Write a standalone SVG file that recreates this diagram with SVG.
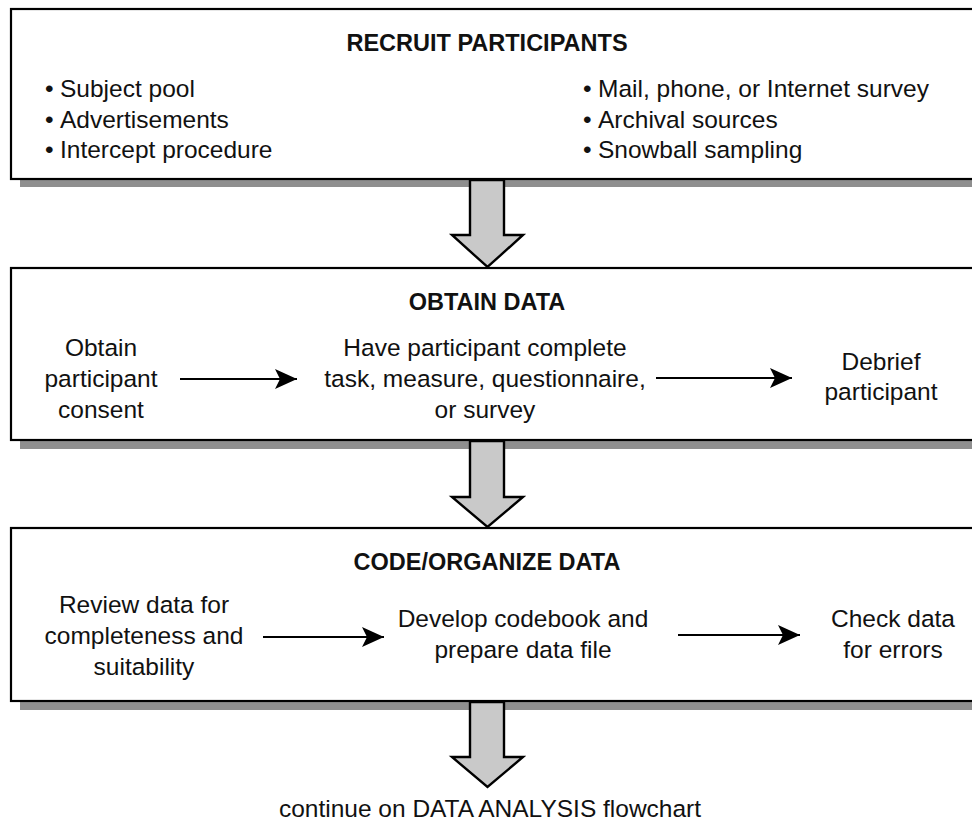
<svg xmlns="http://www.w3.org/2000/svg" width="972" height="831" viewBox="0 0 972 831">
<defs>
<style>
.box{fill:#fff;stroke:#000;stroke-width:2.2}
.shadow{fill:#8f8f8f}
.t{font-family:"Liberation Sans",Arial,sans-serif;font-size:24.5px;fill:#111}
.c{text-anchor:middle}
.h{font-family:"Liberation Sans",Arial,sans-serif;font-size:23.5px;font-weight:bold;fill:#111;text-anchor:middle}
.big{fill:#c9c9c9;stroke:#000;stroke-width:2.4;stroke-linejoin:miter}
.ln{stroke:#000;stroke-width:1.8;fill:none;marker-end:url(#ah)}
</style>
<marker id="ah" markerUnits="userSpaceOnUse" markerWidth="24" markerHeight="24" viewBox="0 0 24 24" refX="22" refY="12" orient="auto">
<path d="M0,2 L22,12 L0,22 L5,12 Z" fill="#000"/>
</marker>
</defs>

<g id="box-recruit">
<rect class="shadow" x="20" y="179" width="960" height="8"/>
<rect class="box" x="11" y="9" width="975" height="170"/>
<text class="h" x="487" y="51">RECRUIT PARTICIPANTS</text>
<text class="t" x="45" y="97">•<tspan x="60">Subject pool</tspan></text>
<text class="t" x="45" y="128">•<tspan x="60">Advertisements</tspan></text>
<text class="t" x="45" y="158">•<tspan x="60">Intercept procedure</tspan></text>
<text class="t" x="583" y="97">•<tspan x="598">Mail, phone, or Internet survey</tspan></text>
<text class="t" x="583" y="128">•<tspan x="598">Archival sources</tspan></text>
<text class="t" x="583" y="158">•<tspan x="598">Snowball sampling</tspan></text>
</g>

<g id="box-obtain">
<rect class="shadow" x="20" y="440" width="960" height="9"/>
<rect class="box" x="11" y="268" width="975" height="172"/>
<text class="h" x="487" y="310">OBTAIN DATA</text>
<text class="t c" x="101" y="356">Obtain</text>
<text class="t c" x="101" y="387">participant</text>
<text class="t c" x="101" y="418">consent</text>
<text class="t c" x="485" y="356">Have participant complete</text>
<text class="t c" x="485" y="387">task, measure, questionnaire,</text>
<text class="t c" x="485" y="418">or survey</text>
<text class="t c" x="881" y="370">Debrief</text>
<text class="t c" x="881" y="400">participant</text>
</g>

<g id="box-code">
<rect class="shadow" x="20" y="701" width="960" height="9"/>
<rect class="box" x="11" y="528" width="975" height="173"/>
<text class="h" x="487" y="570">CODE/ORGANIZE DATA</text>
<text class="t c" x="144" y="613">Review data for</text>
<text class="t c" x="144" y="644">completeness and</text>
<text class="t c" x="144" y="675">suitability</text>
<text class="t c" x="523" y="627">Develop codebook and</text>
<text class="t c" x="523" y="658">prepare data file</text>
<text class="t c" x="893" y="627">Check data</text>
<text class="t c" x="893" y="658">for errors</text>
</g>

<g id="footer">
<text class="t c" x="490" y="817">continue on DATA ANALYSIS flowchart</text>
</g>

<g id="connectors">
<path class="big" d="M470,180 L504,180 L504,235 L523,235 L487.5,267 L452,235 L470,235 Z"/>
<path class="big" d="M470,441 L504,441 L504,497 L523,497 L487.5,527 L452,497 L470,497 Z"/>
<path class="big" d="M470,702 L504,702 L504,757 L523,757 L487.5,787 L452,757 L470,757 Z"/>
<line class="ln" x1="180" y1="379" x2="297" y2="379"/>
<line class="ln" x1="656" y1="378" x2="792" y2="378"/>
<line class="ln" x1="263" y1="637" x2="384" y2="637"/>
<line class="ln" x1="678" y1="635" x2="800" y2="635"/>
</g>
</svg>
